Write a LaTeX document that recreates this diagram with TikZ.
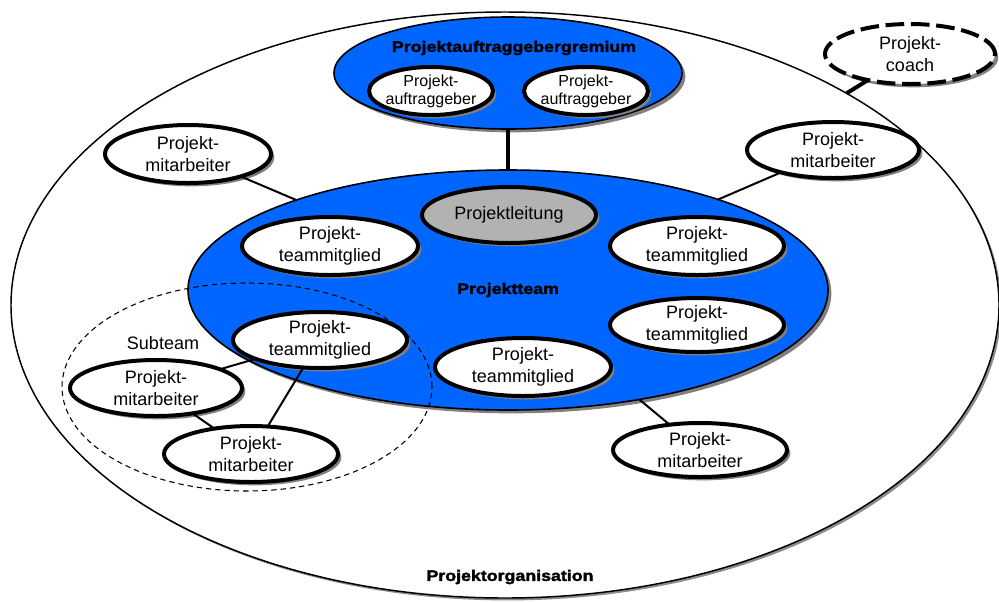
\documentclass[tikz,border=0pt]{standalone}
\usepackage{fontspec}
\setmainfont{Liberation Sans}
\newfontfamily\orgheadfont[FakeStretch=1.16,FakeBold=2.2]{Liberation Sans}
\usetikzlibrary{shapes.geometric,shadows}
\definecolor{teamblue}{RGB}{0,102,255}
\definecolor{leadgray}{RGB}{178,178,178}
\newcommand\nodetxt{\fontsize{13.5}{16.5}\selectfont}
\newcommand\smalltxt{\fontsize{12}{13.5}\selectfont}
\newcommand\headtxt{\orgheadfont\bfseries\fontsize{11.5}{14}\selectfont}
\tikzset{
	osize/.style 2 args={minimum width=#1*1.5pt, minimum height=#2*1.5pt},
	oval/.style={ellipse, draw=black, line width=3pt, fill=white, inner sep=-4pt, outer sep=0pt,
		align=center, font=\nodetxt,
		drop shadow={shadow xshift=2.5pt, shadow yshift=-2.5pt, fill=black!50, opacity=1}},
	blueoval/.style={oval, fill=teamblue, line width=1.2pt, font=\headtxt},
	orgoval/.style={ellipse, draw=black, line width=1.1pt, fill=white, inner sep=0pt, outer sep=0pt,
		drop shadow={shadow xshift=1.8pt, shadow yshift=-1.8pt, fill=black!45, opacity=1}},
	coachoval/.style={oval, dash pattern=on 14pt off 5pt},
	subteam/.style={ellipse, draw=black, line width=0.8pt, dash pattern=on 4pt off 3pt, inner sep=0pt, outer sep=0pt},
	head/.style={font=\headtxt, inner sep=0pt},
	link/.style={draw=black, line width=1.5pt},
	thicklink/.style={draw=black, line width=3pt}
}

\begin{document}
\begin{tikzpicture}[x=0.75pt, y=-0.75pt]
\useasboundingbox (0,0) rectangle (999,601);

\node[orgoval, osize={494}{293}] (org) at (505,305) {};
\node[head] (orgtitle) at (510,577) {Projektorganisation};
\node[coachoval, osize={85}{30}] (coach) at (910,54) {Projekt-\\coach};

\node[blueoval, osize={174}{56}] (grem) at (508,73) {};
\node[head] (gremtitle) at (514,48) {Projektauftraggebergremium};
\node[oval, font=\smalltxt, osize={62}{24}] (ag1) at (431,91) {Projekt-\\auftraggeber};
\node[oval, font=\smalltxt, osize={62}{24}] (ag2) at (586,91) {Projekt-\\auftraggeber};

\node[blueoval, osize={320}{120}] (team) at (508,290) {Projektteam};
\node[oval, fill=leadgray, osize={87}{28}] (lead) at (509,215) {Projektleitung};
\node[oval, osize={88}{29}] (tm1) at (330,246) {Projekt-\\teammitglied};
\node[oval, osize={87}{29}] (tm2) at (697,246) {Projekt-\\teammitglied};
\node[oval, osize={87}{27}] (tm3) at (697,325) {Projekt-\\teammitglied};
\node[oval, osize={88}{29}] (tm4) at (523,367) {Projekt-\\teammitglied};

\node[subteam, osize={185}{104}] (sub) at (247,387) {};
\node[font=\nodetxt, inner sep=0pt] (subtitle) at (163,343) {Subteam};
\node[oval, osize={87}{28}] (tm5) at (320,340) {Projekt-\\teammitglied};

\node[oval, osize={83}{29}] (ma1) at (188,154) {Projekt-\\mitarbeiter};
\node[oval, osize={86}{28}] (ma2) at (833,150) {Projekt-\\mitarbeiter};
\node[oval, osize={87}{27}] (ma3) at (700,450) {Projekt-\\mitarbeiter};
\node[oval, osize={86}{28}] (ma4) at (156,388) {Projekt-\\mitarbeiter};
\node[oval, osize={87}{28}] (ma5) at (251,454) {Projekt-\\mitarbeiter};

\draw[thicklink] (grem) -- (team);
\draw[thicklink] (coach) -- (org);
\draw[link] (ma1) -- (team);
\draw[link] (ma2) -- (team);
\draw[link] (ma3) -- (team);
\draw[link] (tm5) -- (ma4);
\draw[link] (tm5) -- (ma5);
\draw[link] (ma4) -- (ma5);

\end{tikzpicture}
\end{document}
